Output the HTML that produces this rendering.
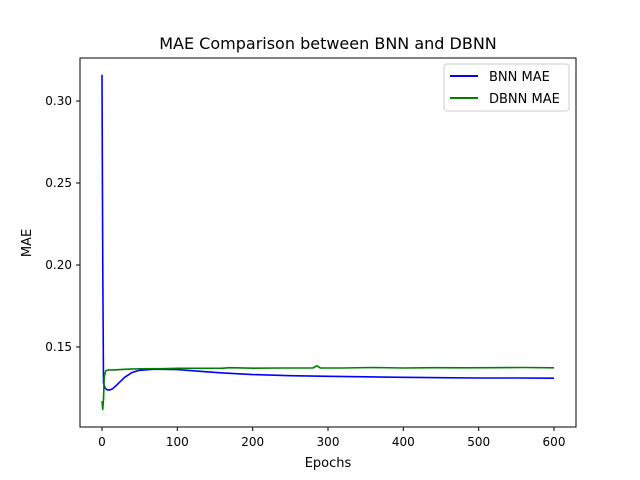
<!DOCTYPE html>
<html><head><meta charset="utf-8"><style>
body{margin:0;background:#fff;}
svg{display:block;font-family:"DejaVu Sans","Liberation Sans",sans-serif;}
</style></head><body>
<svg id="chart" width="640" height="480" viewBox="0 0 640 480">
<rect width="640" height="480" fill="#fff"/>
<text x="328" y="49" text-anchor="middle" font-size="16">MAE Comparison between BNN and DBNN</text>
<g id="ticks"></g>
<g id="series"></g>
<rect x="80" y="58" width="496" height="369" fill="none" stroke="#000" stroke-width="1"/>
<text x="328" y="467" text-anchor="middle" font-size="13">Epochs</text>
<text transform="translate(31,243) rotate(-90)" text-anchor="middle" font-size="13">MAE</text>
<g>
<rect x="444" y="64" width="125" height="47" rx="3" fill="#fff" stroke="#ccc"/>
<line x1="450" y1="76" x2="478" y2="76" stroke="#0000ff" stroke-width="2"/>
<text x="489" y="81" font-size="13">BNN MAE</text>
<line x1="450" y1="98" x2="478" y2="98" stroke="#008000" stroke-width="2"/>
<text x="489" y="103" font-size="13">DBNN MAE</text>
</g>
</svg>
<script>
const xTicks = [0,100,200,300,400,500,600];
const yTicks = [0.15,0.20,0.25,0.30];
const yTickLabels = ["0.15","0.20","0.25","0.30"];
const bnnEpochs = [0,1,2,4,7,10,14,20,30,40,50,70,100,130,160,200,250,300,350,400,450,500,550,600];
const bnnValues = [0.316,0.20,0.128,0.125,0.1238,0.1238,0.1245,0.127,0.1315,0.1345,0.1358,0.1365,0.1362,0.1352,0.1342,0.1332,0.1325,0.1321,0.1318,0.1315,0.1313,0.1311,0.1311,0.131];
const dbnnEpochs = [0,1,2,3,5,8,15,30,50,80,100,130,160,170,200,240,280,285,290,320,360,400,440,480,520,560,600];
const dbnnValues = [0.117,0.112,0.118,0.132,0.1355,0.136,0.136,0.1364,0.1367,0.1368,0.137,0.137,0.1371,0.1374,0.1371,0.1372,0.1372,0.1385,0.1372,0.1372,0.1375,0.1372,0.1374,0.1373,0.1374,0.1375,0.1373];
const X = v => 102 + v*(452/600);
const Y = v => 347 - (v-0.15)*1640;
const NS="http://www.w3.org/2000/svg";
const tg=document.getElementById('ticks');
function mk(t,a,p){const e=document.createElementNS(NS,t);for(const k in a)e.setAttribute(k,a[k]);p.appendChild(e);return e;}
xTicks.forEach(t=>{
 const l=mk('line',{x1:X(t),x2:X(t),y1:427,y2:431,stroke:'#000'},tg);
 
 
 const tx=mk('text',{x:X(t),y:446,'text-anchor':'middle','font-size':12},tg);tx.textContent=t;
 
 
});
yTicks.forEach((t,i)=>{
 const l=mk('line',{x1:76,x2:80,y1:Y(t),y2:Y(t),stroke:'#000'},tg);
 
 
 const tx=mk('text',{x:72,y:Y(t)+4,'text-anchor':'end','font-size':12},tg);tx.textContent=yTickLabels[i];
 
 
});
const sg=document.getElementById('series');
function line(xs,ys,c,name){
 const p=mk('polyline',{points:xs.map((x,i)=>X(x)+','+Y(ys[i])).join(' '),fill:'none',stroke:c,'stroke-width':1.6,'stroke-linejoin':'round'},sg);
 
 
}
line(bnnEpochs,bnnValues,'#0000ff','bnn-mae-line');
line(dbnnEpochs,dbnnValues,'#008000','dbnn-mae-line');
</script>
</body></html>
